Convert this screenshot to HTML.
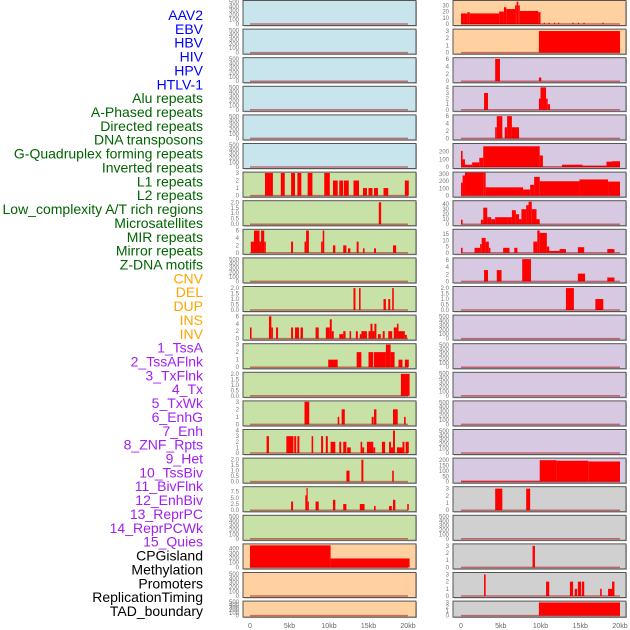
<!DOCTYPE html>
<html><head><meta charset="utf-8">
<style>
html,body{margin:0;padding:0;background:#fff;}
svg{display:block;font-family:"Liberation Sans",sans-serif;}
</style></head>
<body>
<svg id="chart" width="630" height="630" viewBox="0 0 630 630"></svg>
<script>
// ---- data ----
const labelNames = ["AAV2","EBV","HBV","HIV","HPV","HTLV-1","Alu repeats","A-Phased repeats","Directed repeats","DNA transposons","G-Quadruplex forming repeats","Inverted repeats","L1 repeats","L2 repeats","Low_complexity A/T rich regions","Microsatellites","MIR repeats","Mirror repeats","Z-DNA motifs","CNV","DEL","DUP","INS","INV","1_TssA","2_TssAFlnk","3_TxFlnk","4_Tx","5_TxWk","6_EnhG","7_Enh","8_ZNF_Rpts","9_Het","10_TssBiv","11_BivFlnk","12_EnhBiv","13_ReprPC","14_ReprPCWk","15_Quies","CPGisland","Methylation","Promoters","ReplicationTiming","TAD_boundary"];
const labelColors = ["#0000ff","#0000ff","#0000ff","#0000ff","#0000ff","#0000ff","#006400","#006400","#006400","#006400","#006400","#006400","#006400","#006400","#006400","#006400","#006400","#006400","#006400","#ffa500","#ffa500","#ffa500","#ffa500","#ffa500","#a020f0","#a020f0","#a020f0","#a020f0","#a020f0","#a020f0","#a020f0","#a020f0","#a020f0","#a020f0","#a020f0","#a020f0","#a020f0","#a020f0","#a020f0","#000","#000","#000","#000","#000"];
const xTickValues = [0,5,10,15,20];
const xTickLabels = ["0","5kb","10kb","15kb","20kb"];

const ticksDensity = ["0","100","200","300","400","500"];
const ticks3 = ["0","1","2","3"];
const ticks2 = ["0.0","0.5","1.0","1.5","2.0"];
const ticks6 = ["0","2","4","6"];
const ticks4 = ["0","1","2","3","4"];

// segments: [startKb, endKb, value]
const segAlu = [[1.9,2.9,3],[3.9,4.4,3],[5.2,5.7,3],[6.0,6.5,3],[7.3,7.9,3],[9.4,10.1,3],[10.5,11.1,2],[11.3,11.8,2],[11.9,12.5,2],[13.1,13.8,2],[14.3,14.8,1],[15.0,15.5,1],[15.7,16.2,1],[16.9,17.5,1],[19.6,20.1,2]];
const segAPhased = [[16.3,16.6,2]];
const segDirected = [[0.1,0.5,3],[0.5,1.2,6],[1.2,1.4,3],[1.4,1.8,6],[1.8,2.0,3],[5.2,5.45,3],[6.9,7.1,3],[7.1,7.45,6],[9.0,9.2,3],[9.2,9.4,6],[10.5,10.8,2],[11.8,12.2,2],[12.4,12.7,1.2],[13.5,13.75,3],[14.3,14.5,1.2],[15.7,15.95,1.2],[18.1,18.5,2]];
const segGQuad = [[13.1,13.35,2],[13.8,14.0,2],[16.9,17.2,1],[17.5,17.75,1],[18.0,18.2,2]];
const segInverted = [[0.0,0.2,3],[2.4,2.7,6],[2.7,2.9,3],[3.3,3.55,3],[5.2,5.45,3],[5.7,6.2,3],[6.4,6.7,3],[8.3,8.7,3],[9.6,10.1,3],[10.1,10.35,5.2],[10.35,10.6,2],[11.3,11.8,1.2],[11.8,12.1,2],[12.6,12.8,2],[13.4,13.65,2],[13.9,14.1,1.2],[14.1,14.8,2],[15.0,15.25,2],[15.25,15.5,4],[15.5,15.75,2],[15.75,16.0,4],[16.2,16.55,1.2],[16.8,17.05,2],[17.5,18.0,2],[18.2,18.6,3],[18.6,18.8,4],[18.8,19.6,2],[19.6,19.85,1]];
const segL1 = [[9.9,11.1,1],[13.5,14.1,2],[15.0,15.6,2],[15.7,17.2,2],[17.2,17.8,3],[17.8,18.3,2],[18.8,19.3,1],[19.6,20.1,1]];
const segL2 = [[19.1,20.2,2]];
const segLowCx = [[6.9,7.5,3],[11.1,11.3,1],[11.6,12.0,2],[15.4,15.65,1],[15.7,16.0,2],[18.1,18.7,2],[19.5,19.7,1]];
const segMIR = [[2.1,2.4,3],[4.6,5.5,3],[5.6,5.85,3],[6.0,6.25,3],[7.8,8.0,3],[9.0,9.25,3],[9.6,9.85,3],[10.2,10.8,2],[11.3,11.55,2],[11.8,12.2,2],[12.3,12.75,1],[14.0,14.2,2],[14.2,14.45,1],[14.8,15.6,2],[15.6,15.85,1],[16.7,17.1,2],[17.6,17.85,2],[17.85,18.1,1],[18.1,18.35,4],[18.6,19.3,1],[19.3,19.55,2],[19.7,20.1,2]];
const segMirror = [[12.2,12.6,1],[14.1,14.35,2],[18.0,18.2,1]];
const segZDNA = [[5.2,5.45,3.5],[7.0,7.15,6],[7.15,7.3,9],[7.3,7.45,3.5],[8.3,8.7,3.5],[10.5,10.8,4.2],[11.8,12.2,2.5],[13.9,14.5,2.5],[15.7,15.9,1.7],[17.6,17.95,1.7],[18.1,18.4,4.2],[19.9,20.1,2.5]];
const segCNV = [[0,10.2,470],[10.2,20.2,190]];
const segINS = [[0,0.8,17],[0.8,1.1,19],[1.1,4.8,17],[4.8,5.4,20],[5.4,5.7,27],[5.7,6.8,24],[6.8,7.0,30],[7.0,7.2,36],[7.2,7.4,30],[7.4,9.7,21],[9.7,10.0,19],[10.4,10.55,2],[11.0,11.15,2],[11.7,11.85,2],[12.2,12.35,2],[14.0,14.15,2],[14.7,14.85,2],[15.4,15.55,2],[17.8,17.95,2]];
const segINV = [[9.8,20.0,3]];
const segTssA = [[4.3,4.9,6],[9.8,10.1,1]];
const segTssAFlnk = [[2.9,3.4,3],[9.8,10.0,2],[10.0,10.7,4],[10.7,10.9,2],[10.9,11.2,1]];
const segTxFlnk = [[4.3,4.5,3],[4.5,5.2,6],[5.5,5.8,3],[5.8,6.4,6],[6.4,7.3,3]];
const segTx = [[0,0.2,210],[0.2,0.5,100],[0.5,1.4,30],[1.4,2.3,60],[2.3,2.8,120],[2.8,9.9,270],[9.9,10.3,150],[10.3,12.7,5],[12.7,15.3,30],[15.3,18.3,18],[18.3,19.0,70],[19.0,20,75]];
const segTxWk = [[0,0.2,180],[0.2,0.5,280],[0.5,2.8,360],[2.8,3.1,330],[3.1,7.8,115],[7.8,8.7,85],[8.7,9.2,150],[9.2,9.9,260],[9.9,14.9,200],[14.9,18.5,225],[18.5,20,195]];
const segEnhG = [[0,0.2,9],[2.5,2.8,9],[2.8,3.3,33],[3.3,3.8,14],[3.8,4.3,10],[4.3,5.9,14],[5.9,6.4,14],[6.4,6.9,28],[6.9,7.3,20],[7.3,7.6,10],[7.6,8.2,30],[8.2,8.5,38],[8.5,8.9,45],[8.9,9.5,30],[9.5,9.9,10]];
const segEnh = [[0,0.2,4],[1.7,2.4,4],[2.4,2.6,7],[2.6,3.1,12],[3.1,3.5,9],[3.5,3.7,4],[5.3,6.1,4],[6.7,7.1,4],[9.1,9.6,9],[9.6,9.9,18],[9.9,10.8,16],[10.8,11.1,5],[11.1,12.4,1.5],[12.4,13.2,3],[14.7,15.5,4.5],[18.4,19.3,3]];
const segZNF = [[2.9,3.4,3.2],[4.5,5.1,3.2],[7.7,8.8,6.3],[14.7,15.6,2.2],[18.4,19.3,1.1]];
const segHet = [[13.2,14.2,2],[16.9,17.9,1]];
const segBivFlnk = [[0,9.9,8],[9.9,12,200],[12,16,195],[16,20,188]];
const segCPG = [[4.3,5.2,3],[8.2,8.7,3]];
const segPromoters = [[9.0,9.3,3]];
const segRepl = [[2.9,3.1,3],[10.7,11.1,2],[13.7,14.1,2],[14.3,14.6,1],[14.7,15.1,2],[15.2,15.5,2],[17.5,17.7,1],[18.5,19.0,1],[19.0,19.3,2]];
const segTAD = [[9.8,20.0,3]];

const panelCols = [0,0,0,0,0,0,0,0,0,0,0,0,0,0,0,0,0,0,0,0,0,0, 1,1,1,1,1,1,1,1,1,1,1,1,1,1,1,1,1,1,1,1,1,1];
const panelBg = ["b","b","b","b","b","b","g","g","g","g","g","g","g","g","g","g","g","g","g","o","o","o","o","o","p","p","p","p","p","p","p","p","p","p","p","p","p","p","p","y","y","y","y","y"];
</script>
<script>
const svg = document.getElementById('chart');
const NS = 'http://www.w3.org/2000/svg';
const bgColors = {b:"#c8e4ec", g:"#c8e1a6", o:"#ffd0a0", p:"#d8c9e3", y:"#d0d0d0"};
const D = [ticksDensity,520,[]];
const panelSpecs = [
 D,D,D,D,D,D,
 [ticks3,3.05,segAlu],[ticks2,2.1,segAPhased],[ticks6,6.2,segDirected],D,[ticks2,2.1,segGQuad],
 [ticks6,6.2,segInverted],[ticks3,3.05,segL1],[ticks2,2.1,segL2],[ticks3,3.05,segLowCx],[ticks4,4.1,segMIR],
 [ticks2,2.1,segMirror],[["0.0","2.5","5.0","7.5"],9.3,segZDNA],D,[["0","100","200","300","400"],490,segCNV],D,D,
 [["0","10","20","30"],37,segINS],[ticks3,3.2,segINV],[ticks6,6.2,segTssA],[ticks4,4.1,segTssAFlnk],[ticks6,6.2,segTxFlnk],
 [["0","100","200"],300,segTx],[["0","100","200","300"],320,segTxWk],[["0","10","20","30","40"],46,segEnhG],[["0","5","10","15"],18.5,segEnh],
 [ticks6,6.5,segZNF],[ticks2,2.1,segHet],D,D,D,D,D,[["0","50","100","150","200"],215,segBivFlnk],
 [ticks3,3.2,segCPG],D,[ticks3,3.2,segPromoters],[ticks3,3.2,segRepl],[ticks3,3.2,segTAD]
];
function mk(tag, attrs, parent){const e=document.createElementNS(NS,tag);for(const k in attrs)e.setAttribute(k,attrs[k]);(parent||svg).appendChild(e);return e;}

const lg = mk('g',{});


labelNames.forEach((n,i)=>{
  const t = mk('text',{x:203,y:20+i*13.86,'text-anchor':'end','font-size':14,fill:labelColors[i]},lg);
  t.textContent = n;
  
  
});

const colX = [[243,416,250,7.9],[453,626,461,7.95]];
panelSpecs.forEach((spec,i)=>{
  const col = panelCols[i];
  const row = col===0 ? i : i-22;
  const [x0,x1,xz,kx] = colX[col];
  const top = 0.5 + row*28.6;
  const h = row===21 ? 16 : 25;
  const zero = top + h - 1.5;
  const span = h - 2;
  const [ticks,yTop,segs] = spec;
  const xs = kb => xz + kb*kx;
  const ys = v => zero - Math.min(v/yTop,1)*span;
  const g = mk('g',{});
  
  
  mk('rect',{x:x0+1,y:top+1,width:x1-x0,height:h,fill:'#bbb'},g);
  const bg = mk('rect',{x:x0,y:top,width:x1-x0,height:h,fill:bgColors[panelBg[i]],stroke:'#555','stroke-width':1},g);
  
  
  segs.forEach(s=>{
    const r = mk('rect',{x:xs(s[0]),y:ys(s[2]),width:Math.max(xs(s[1])-xs(s[0]),1),height:zero-ys(s[2]),fill:'#ff0000'},g);
    
    
  });
  const bl = mk('line',{x1:xs(0),x2:xs(20),y1:zero,y2:zero,stroke:'rgba(170,0,0,0.5)','stroke-width':1.5},g);
  
  
  ticks.forEach(tl=>{
    const v = parseFloat(tl);
    const t = mk('text',{x:x0-4,y:ys(v)+2,'text-anchor':'end','font-size':6,fill:'#777'},g);
    t.textContent = tl;
    
    
  });
});

[0,1].forEach(c=>{
  const [x0,x1,xz,kx] = colX[c];
  const g = mk('g',{});
  
  
  xTickValues.forEach((v,j)=>{
    const t = mk('text',{x:xz+v*kx,y:628,'text-anchor':'middle','font-size':7,fill:'#666'},g);
    t.textContent = xTickLabels[j];
    
    
  });
});
</script>
</body></html>
